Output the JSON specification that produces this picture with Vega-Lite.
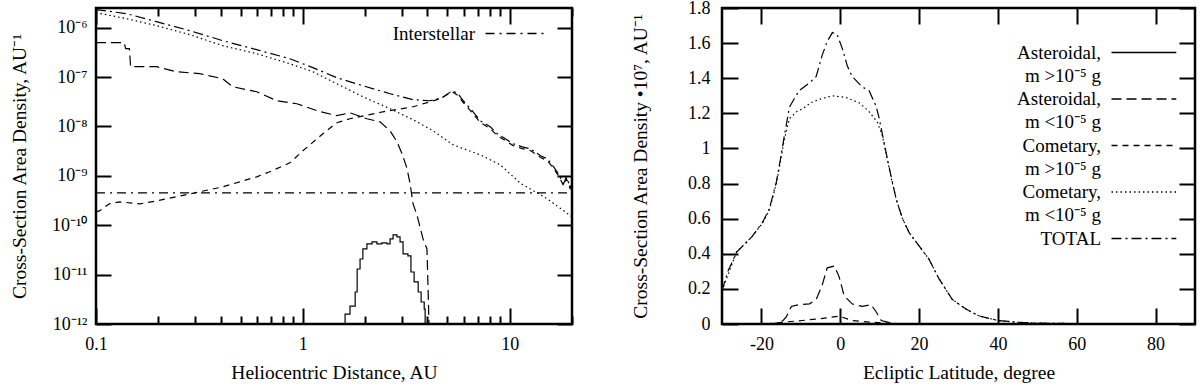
{
  "$schema": "https://vega.github.io/schema/vega-lite/v6.json",
  "padding": {"left": 8, "top": -3, "right": 0, "bottom": 0},
  "spacing": 150,
  "bounds": "flush",
  "resolve": {"scale": {"strokeDash": "independent"}, "legend": {"strokeDash": "independent"}},
  "config": {
    "font": "Liberation Serif",
    "view": {"stroke": "black", "strokeWidth": 2.5},
    "axis": {"labelFont": "Liberation Serif", "labelFontSize": 18, "labelColor": "black", "titleFont": "Liberation Serif", "titleFontSize": 19.5, "titleFontWeight": "normal", "titleColor": "black", "domain": false, "grid": false, "tickColor": "black", "tickWidth": 2, "labelFlush": false, "labelOverlap": false},
    "legend": {"labelFont": "Liberation Serif", "labelFontSize": 19, "labelColor": "black", "symbolStrokeColor": "black", "symbolStrokeWidth": 1.3, "padding": 0, "labelLimit": 0}
  },
  "datasets": {
    "left": [
      {"s":"T","x":0.1,"y":2.32e-6},{"s":"T","x":0.1406,"y":1.92e-6},{"s":"T","x":0.196,"y":1.32e-6},{"s":"T","x":0.284,"y":8.69e-7},{"s":"T","x":0.41,"y":5.45e-7},{"s":"T","x":0.598,"y":3.58e-7},{"s":"T","x":0.865,"y":2.35e-7},{"s":"T","x":1.118,"y":1.55e-7},{"s":"T","x":1.46,"y":9.7e-8},{"s":"T","x":1.95,"y":6.67e-8},{"s":"T","x":2.64,"y":4.59e-8},{"s":"T","x":3.41,"y":3.47e-8},{"s":"T","x":4.12,"y":3.31e-8},{"s":"T","x":4.71,"y":3.81e-8},{"s":"T","x":5.27,"y":5.28e-8},{"s":"T","x":5.63,"y":4.59e-8},{"s":"T","x":5.96,"y":3.31e-8},{"s":"T","x":6.58,"y":2.08e-8},{"s":"T","x":7.2,"y":1.3e-8},{"s":"T","x":8.05,"y":9.84e-9},{"s":"T","x":8.7,"y":7.1e-9},{"s":"T","x":9.51,"y":5.62e-9},{"s":"T","x":10.4,"y":4.45e-9},{"s":"T","x":11.5,"y":3.87e-9},{"s":"T","x":12.6,"y":3.52e-9},{"s":"T","x":14.1,"y":2.54e-9},{"s":"T","x":15.2,"y":2.21e-9},{"s":"T","x":16.3,"y":1.52e-9},{"s":"T","x":17.2,"y":1.1e-9},{"s":"T","x":18.2,"y":6.88e-10},{"s":"T","x":18.8,"y":9.54e-10},{"s":"T","x":19.6,"y":5.98e-10},{"s":"T","x":20,"y":6.88e-10},
      {"s":"C>","x":0.1,"y":1.86e-10},{"s":"C>","x":0.104,"y":1.95e-10},{"s":"C>","x":0.116,"y":2.71e-10},{"s":"C>","x":0.13,"y":2.97e-10},{"s":"C>","x":0.163,"y":2.71e-10},{"s":"C>","x":0.196,"y":3.11e-10},{"s":"C>","x":0.284,"y":4.31e-10},{"s":"C>","x":0.41,"y":5.98e-10},{"s":"C>","x":0.598,"y":9.54e-10},{"s":"C>","x":0.692,"y":1.21e-9},{"s":"C>","x":0.865,"y":1.83e-9},{"s":"C>","x":1.0,"y":3.21e-9},{"s":"C>","x":1.25,"y":7.1e-9},{"s":"C>","x":1.46,"y":1.19e-8},{"s":"C>","x":1.69,"y":1.43e-8},{"s":"C>","x":2.44,"y":1.98e-8},{"s":"C>","x":3.41,"y":2.5e-8},{"s":"C>","x":4.61,"y":3.64e-8},{"s":"C>","x":5.27,"y":5.04e-8},{"s":"C>","x":5.63,"y":4.22e-8},{"s":"C>","x":5.96,"y":3.05e-8},{"s":"C>","x":6.58,"y":1.91e-8},{"s":"C>","x":7.2,"y":1.2e-8},{"s":"C>","x":8.05,"y":9.05e-9},{"s":"C>","x":8.7,"y":6.53e-9},{"s":"C>","x":9.51,"y":5.17e-9},{"s":"C>","x":10.4,"y":4.09e-9},{"s":"C>","x":11.5,"y":3.56e-9},{"s":"C>","x":12.6,"y":3.24e-9},{"s":"C>","x":14.1,"y":2.34e-9},{"s":"C>","x":15.2,"y":2.03e-9},{"s":"C>","x":16.3,"y":1.4e-9},{"s":"C>","x":17.2,"y":1.01e-9},{"s":"C>","x":18.2,"y":6.33e-10},{"s":"C>","x":18.8,"y":8.78e-10},{"s":"C>","x":19.6,"y":5.5e-10},{"s":"C>","x":20,"y":6.33e-10},
      {"s":"C<","x":0.1,"y":2.01e-6},{"s":"C<","x":0.1406,"y":1.52e-6},{"s":"C<","x":0.196,"y":1.1e-6},{"s":"C<","x":0.284,"y":7.21e-7},{"s":"C<","x":0.41,"y":4.31e-7},{"s":"C<","x":0.598,"y":2.97e-7},{"s":"C<","x":0.865,"y":1.86e-7},{"s":"C<","x":1.118,"y":1.28e-7},{"s":"C<","x":1.46,"y":7.32e-8},{"s":"C<","x":1.95,"y":3.99e-8},{"s":"C<","x":2.64,"y":2.28e-8},{"s":"C<","x":3.41,"y":1.37e-8},{"s":"C<","x":4.26,"y":8.16e-9},{"s":"C<","x":5.32,"y":4.25e-9},{"s":"C<","x":7.2,"y":2.66e-9},{"s":"C<","x":9.0,"y":1.67e-9},{"s":"C<","x":11.2,"y":7.21e-10},{"s":"C<","x":15.2,"y":3.42e-10},{"s":"C<","x":20,"y":1.48e-10},
      {"s":"A<","x":0.1,"y":4.96e-7},{"s":"A<","x":0.137,"y":4.96e-7},{"s":"A<","x":0.139,"y":3.75e-7},{"s":"A<","x":0.145,"y":3.75e-7},{"s":"A<","x":0.147,"y":1.62e-7},{"s":"A<","x":0.196,"y":1.62e-7},{"s":"A<","x":0.245,"y":1.28e-7},{"s":"A<","x":0.317,"y":1.17e-7},{"s":"A<","x":0.41,"y":9.25e-8},{"s":"A<","x":0.458,"y":6.37e-8},{"s":"A<","x":0.598,"y":5.04e-8},{"s":"A<","x":0.748,"y":3.31e-8},{"s":"A<","x":0.935,"y":2.88e-8},{"s":"A<","x":1.17,"y":2.08e-8},{"s":"A<","x":1.46,"y":1.65e-8},{"s":"A<","x":1.69,"y":1.89e-8},{"s":"A<","x":2.04,"y":1.43e-8},{"s":"A<","x":2.36,"y":1.24e-8},{"s":"A<","x":2.64,"y":8.16e-9},{"s":"A<","x":2.85,"y":4.89e-9},{"s":"A<","x":3.02,"y":2.79e-9},{"s":"A<","x":3.19,"y":1.39e-9},{"s":"A<","x":3.3,"y":6.88e-10},{"s":"A<","x":3.41,"y":2.71e-10},{"s":"A<","x":3.57,"y":1.55e-10},{"s":"A<","x":3.81,"y":5.28e-11},{"s":"A<","x":3.98,"y":3.31e-11},{"s":"A<","x":4.03,"y":5.12e-12},{"s":"A<","x":4.07,"y":1e-12},
      {"s":"A>","x":1.58,"y":1e-12},{"s":"A>","x":1.6,"y":1.59e-12},{"s":"A>","x":1.69,"y":2.31e-12},{"s":"A>","x":1.79,"y":4.45e-12},{"s":"A>","x":1.83,"y":1.3e-11},{"s":"A>","x":1.89,"y":2.07e-11},{"s":"A>","x":1.95,"y":3.31e-11},{"s":"A>","x":2.04,"y":4.18e-11},{"s":"A>","x":2.16,"y":4.59e-11},{"s":"A>","x":2.28,"y":4.18e-11},{"s":"A>","x":2.41,"y":4.38e-11},{"s":"A>","x":2.55,"y":4.18e-11},{"s":"A>","x":2.64,"y":5.28e-11},{"s":"A>","x":2.73,"y":6.37e-11},{"s":"A>","x":2.85,"y":5.79e-11},{"s":"A>","x":2.95,"y":4.59e-11},{"s":"A>","x":3.05,"y":2.62e-11},{"s":"A>","x":3.22,"y":2.39e-11},{"s":"A>","x":3.33,"y":1.13e-11},{"s":"A>","x":3.45,"y":7.1e-12},{"s":"A>","x":3.61,"y":4.45e-12},{"s":"A>","x":3.73,"y":2.79e-12},{"s":"A>","x":3.86,"y":2.01e-12},{"s":"A>","x":3.9,"y":1e-12},
      {"s":"I","x":0.1,"y":4.5e-10},{"s":"I","x":20,"y":4.5e-10}
    ],
    "right": [
      {"s":"T","x":-30,"y":0.19},{"s":"T","x":-28.5,"y":0.3},{"s":"T","x":-26.3,"y":0.41},{"s":"T","x":-24,"y":0.46},{"s":"T","x":-22.3,"y":0.5},{"s":"T","x":-19.7,"y":0.58},{"s":"T","x":-18,"y":0.655},{"s":"T","x":-16.2,"y":0.81},{"s":"T","x":-15,"y":0.96},{"s":"T","x":-14.2,"y":1.07},{"s":"T","x":-12.9,"y":1.235},{"s":"T","x":-11.5,"y":1.29},{"s":"T","x":-10.4,"y":1.33},{"s":"T","x":-8,"y":1.37},{"s":"T","x":-6.1,"y":1.41},{"s":"T","x":-4.6,"y":1.53},{"s":"T","x":-3.3,"y":1.61},{"s":"T","x":-2,"y":1.66},{"s":"T","x":-0.8,"y":1.65},{"s":"T","x":0.5,"y":1.57},{"s":"T","x":1.8,"y":1.47},{"s":"T","x":3,"y":1.41},{"s":"T","x":5.6,"y":1.35},{"s":"T","x":7.3,"y":1.33},{"s":"T","x":9.1,"y":1.24},{"s":"T","x":9.9,"y":1.17},{"s":"T","x":10.7,"y":1.08},{"s":"T","x":11.6,"y":0.98},{"s":"T","x":12.9,"y":0.84},{"s":"T","x":14.2,"y":0.71},{"s":"T","x":15.8,"y":0.6},{"s":"T","x":17.5,"y":0.52},{"s":"T","x":20,"y":0.445},{"s":"T","x":22.5,"y":0.37},{"s":"T","x":25,"y":0.26},{"s":"T","x":28.4,"y":0.14},{"s":"T","x":31.9,"y":0.085},{"s":"T","x":35.2,"y":0.046},{"s":"T","x":40,"y":0.02},{"s":"T","x":45,"y":0.01},{"s":"T","x":50,"y":0.005},{"s":"T","x":60,"y":0.002},{"s":"T","x":70,"y":0.001},{"s":"T","x":90,"y":0.0005},
      {"s":"C<","x":-30,"y":0.19},{"s":"C<","x":-26.3,"y":0.41},{"s":"C<","x":-22.3,"y":0.5},{"s":"C<","x":-19.7,"y":0.575},{"s":"C<","x":-18,"y":0.65},{"s":"C<","x":-16.2,"y":0.8},{"s":"C<","x":-15,"y":0.95},{"s":"C<","x":-14.2,"y":1.05},{"s":"C<","x":-12.9,"y":1.17},{"s":"C<","x":-11,"y":1.21},{"s":"C<","x":-9.6,"y":1.225},{"s":"C<","x":-7.5,"y":1.26},{"s":"C<","x":-5.3,"y":1.28},{"s":"C<","x":-2,"y":1.3},{"s":"C<","x":1.5,"y":1.29},{"s":"C<","x":4.8,"y":1.26},{"s":"C<","x":7.3,"y":1.21},{"s":"C<","x":9.4,"y":1.15},{"s":"C<","x":10.7,"y":1.07},{"s":"C<","x":11.6,"y":0.975},{"s":"C<","x":12.9,"y":0.835},{"s":"C<","x":14.2,"y":0.71},{"s":"C<","x":15.8,"y":0.6},{"s":"C<","x":17.5,"y":0.52},{"s":"C<","x":20,"y":0.445},{"s":"C<","x":22.5,"y":0.37},{"s":"C<","x":25,"y":0.26},{"s":"C<","x":28.4,"y":0.14},{"s":"C<","x":31.9,"y":0.085},{"s":"C<","x":35.2,"y":0.046},{"s":"C<","x":40,"y":0.02},{"s":"C<","x":45,"y":0.01},{"s":"C<","x":50,"y":0.005},{"s":"C<","x":60,"y":0.002},{"s":"C<","x":70,"y":0.001},{"s":"C<","x":90,"y":0.0005},
      {"s":"A<","x":-30,"y":0},{"s":"A<","x":-18,"y":0},{"s":"A<","x":-16,"y":0.005},{"s":"A<","x":-14.5,"y":0.02},{"s":"A<","x":-13.7,"y":0.04},{"s":"A<","x":-12.4,"y":0.1},{"s":"A<","x":-10.4,"y":0.11},{"s":"A<","x":-7.8,"y":0.115},{"s":"A<","x":-6.1,"y":0.14},{"s":"A<","x":-4.6,"y":0.22},{"s":"A<","x":-3.3,"y":0.32},{"s":"A<","x":-1.5,"y":0.33},{"s":"A<","x":-0.3,"y":0.27},{"s":"A<","x":1,"y":0.16},{"s":"A<","x":3,"y":0.115},{"s":"A<","x":5.6,"y":0.1},{"s":"A<","x":7.8,"y":0.11},{"s":"A<","x":9.1,"y":0.07},{"s":"A<","x":10.4,"y":0.02},{"s":"A<","x":13,"y":0.005},{"s":"A<","x":15,"y":0},{"s":"A<","x":90,"y":0},
      {"s":"C>","x":-30,"y":0},{"s":"C>","x":-18,"y":0.002},{"s":"C>","x":-14.7,"y":0.01},{"s":"C>","x":-9.6,"y":0.02},{"s":"C>","x":-3.3,"y":0.035},{"s":"C>","x":-0.3,"y":0.045},{"s":"C>","x":3,"y":0.02},{"s":"C>","x":8,"y":0.01},{"s":"C>","x":13,"y":0.003},{"s":"C>","x":20,"y":0.001},{"s":"C>","x":90,"y":0},
      {"s":"A>","x":-30,"y":0},{"s":"A>","x":-10,"y":0.0005},{"s":"A>","x":0,"y":0.001},{"s":"A>","x":10,"y":0.0005},{"s":"A>","x":90,"y":0}
    ]
  },
  "hconcat": [
    {
      "width": 476,
      "height": 316,
      "data": {"name": "left"},
      "layer": [
        {
          "transform": [{"filter": "datum.s != 'A>'"}],
          "mark": {"type": "line", "interpolate": "linear", "color": "black", "strokeWidth": 1.2},
          "encoding": {
            "x": {"field": "x", "type": "quantitative", "scale": {"type": "log", "domain": [0.1, 20], "nice": false},
              "axis": {"orient": "bottom", "values": [0.1, 1, 10], "labelExpr": "datum.value==0.1?'0.1':datum.value==1?'1':'10'", "title": "Heliocentric Distance, AU", "tickSize": -16, "labelPadding": 27, "titlePadding": 10}},
            "y": {"field": "y", "type": "quantitative", "scale": {"type": "log", "domain": [1e-12, 2.5e-6], "nice": false},
              "axis": {"orient": "left", "values": [1e-12,1e-11,1e-10,1e-9,1e-8,1e-7,1e-6], "labelExpr": "['10⁻¹²','10⁻¹¹','10⁻¹⁰','10⁻⁹','10⁻⁸','10⁻⁷','10⁻⁶'][round(log(datum.value)/LN10)+12]", "title": "Cross-Section Area Density, AU⁻¹", "tickSize": -15, "labelPadding": 24, "titlePadding": 22}},
            "strokeDash": {
              "field": "s", "type": "nominal",
              "scale": {"domain": ["A>","A<","C>","C<","T","I"], "range": [[1,0],[10,5],[6,5],[1.5,3],[10,4,2,4],[9,5,2,5]]},
              "legend": {"values": ["I"], "title": null, "orient": "none", "legendX": 388, "legendY": 16, "symbolSize": 256, "symbolType": "M-1,0H6.25", "labelAlign": "right", "labelOffset": -28, "labelBaseline": "middle", "labelExpr": "'Interstellar'"}
            }
          }
        },
        {
          "transform": [{"filter": "datum.s == 'A>'"}],
          "mark": {"type": "line", "interpolate": "step-after", "color": "black", "strokeWidth": 1.2},
          "encoding": {
            "x": {"field": "x", "type": "quantitative", "scale": {"type": "log", "domain": [0.1, 20], "nice": false},
              "axis": {"orient": "top", "values": [0.1, 1, 10], "labels": false, "title": null, "tickSize": -16}},
            "y": {"field": "y", "type": "quantitative", "scale": {"type": "log", "domain": [1e-12, 2.5e-6], "nice": false},
              "axis": {"orient": "right", "values": [1e-12,1e-11,1e-10,1e-9,1e-8,1e-7,1e-6], "labels": false, "title": null, "tickSize": -15}},
            "strokeDash": {
              "field": "s", "type": "nominal",
              "scale": {"domain": ["A>","A<","C>","C<","T","I"], "range": [[1,0],[10,5],[6,5],[1.5,3],[10,4,2,4],[9,5,2,5]]},
              "legend": {"values": ["I"], "title": null, "orient": "none", "legendX": 388, "legendY": 16, "symbolSize": 256, "symbolType": "M-1,0H6.25", "labelAlign": "right", "labelOffset": -28, "labelBaseline": "middle", "labelExpr": "'Interstellar'"}
            }
          }
        },
        {
          "transform": [{"filter": "false"}],
          "mark": {"type": "line", "color": "black"},
          "encoding": {
            "x": {"field": "x", "type": "quantitative", "scale": {"type": "log", "domain": [0.1, 20], "nice": false},
              "axis": {"orient": "bottom", "values": [0.2,0.3,0.4,0.5,0.6,0.7,0.8,0.9,2,3,4,5,6,7,8,9,20], "labels": false, "title": null, "tickSize": -8}},
            "y": {"field": "y", "type": "quantitative", "scale": {"type": "log", "domain": [1e-12, 2.5e-6], "nice": false}, "axis": null}
          }
        },
        {
          "transform": [{"filter": "false"}],
          "mark": {"type": "line", "color": "black"},
          "encoding": {
            "x": {"field": "x", "type": "quantitative", "scale": {"type": "log", "domain": [0.1, 20], "nice": false},
              "axis": {"orient": "top", "values": [0.2,0.3,0.4,0.5,0.6,0.7,0.8,0.9,2,3,4,5,6,7,8,9,20], "labels": false, "title": null, "tickSize": -8}},
            "y": {"field": "y", "type": "quantitative", "scale": {"type": "log", "domain": [1e-12, 2.5e-6], "nice": false}, "axis": null}
          }
        }
      ],
      "resolve": {"axis": {"x": "independent", "y": "independent"}}
    },
    {
      "width": 473,
      "height": 316,
      "data": {"name": "right"},
      "layer": [
        {
          "transform": [{"filter": "datum.s != 'A>'"}],
          "mark": {"type": "line", "interpolate": "linear", "color": "black", "strokeWidth": 1.2},
          "encoding": {
            "x": {"field": "x", "type": "quantitative", "scale": {"domain": [-30, 90], "nice": false},
              "axis": {"orient": "bottom", "values": [-20,0,20,40,60,80], "labelExpr": "datum.value < 0 ? '-' + abs(datum.value) : '' + datum.value", "title": "Ecliptic Latitude, degree", "tickSize": -16, "labelPadding": 27, "titlePadding": 10}},
            "y": {"field": "y", "type": "quantitative", "scale": {"domain": [0, 1.8], "nice": false},
              "axis": {"orient": "left", "values": [0,0.2,0.4,0.6,0.8,1,1.2,1.4,1.6,1.8], "format": "~g", "title": "Cross-Section Area Density •10⁷, AU⁻¹", "tickSize": -16, "labelPadding": 28, "titlePadding": 37}},
            "strokeDash": {
              "field": "s", "type": "nominal",
              "scale": {"domain": ["A>","A<","C>","C<","T"], "range": [[1,0],[10,5],[6,5],[1.5,3],[10,4,2,4]]},
              "legend": {"values": ["A>","A<","C>","C<","T"], "title": null, "orient": "none", "legendX": 388, "legendY": 35, "symbolSize": 256, "symbolType": "M-1,0H7.1", "labelAlign": "right", "labelOffset": -28, "labelBaseline": "alphabetic", "rowPadding": 3.5,
                "labelExpr": "datum.value=='A>'?['Asteroidal,','m >10⁻⁵ g']:datum.value=='A<'?['Asteroidal,','m <10⁻⁵ g']:datum.value=='C>'?['Cometary,','m >10⁻⁵ g']:datum.value=='C<'?['Cometary,','m <10⁻⁵ g']:['TOTAL',' ']",
                "encoding": {"labels": {"dy": {"value": 6}, "lineHeight": {"value": 23}}}}
            }
          }
        },
        {
          "transform": [{"filter": "datum.s == 'A>'"}],
          "mark": {"type": "line", "interpolate": "linear", "color": "black", "strokeWidth": 1.2},
          "encoding": {
            "x": {"field": "x", "type": "quantitative", "scale": {"domain": [-30, 90], "nice": false},
              "axis": {"orient": "top", "values": [-20,0,20,40,60,80], "labels": false, "title": null, "tickSize": -16}},
            "y": {"field": "y", "type": "quantitative", "scale": {"domain": [0, 1.8], "nice": false},
              "axis": {"orient": "right", "values": [0,0.2,0.4,0.6,0.8,1,1.2,1.4,1.6,1.8], "labels": false, "title": null, "tickSize": -16}},
            "strokeDash": {
              "field": "s", "type": "nominal",
              "scale": {"domain": ["A>","A<","C>","C<","T"], "range": [[1,0],[10,5],[6,5],[1.5,3],[10,4,2,4]]},
              "legend": {"values": ["A>","A<","C>","C<","T"], "title": null, "orient": "none", "legendX": 388, "legendY": 35, "symbolSize": 256, "symbolType": "M-1,0H7.1", "labelAlign": "right", "labelOffset": -28, "labelBaseline": "alphabetic", "rowPadding": 3.5,
                "labelExpr": "datum.value=='A>'?['Asteroidal,','m >10⁻⁵ g']:datum.value=='A<'?['Asteroidal,','m <10⁻⁵ g']:datum.value=='C>'?['Cometary,','m >10⁻⁵ g']:datum.value=='C<'?['Cometary,','m <10⁻⁵ g']:['TOTAL',' ']",
                "encoding": {"labels": {"dy": {"value": 6}, "lineHeight": {"value": 23}}}}
            }
          }
        }
      ],
      "resolve": {"axis": {"x": "independent", "y": "independent"}}
    }
  ]
}
